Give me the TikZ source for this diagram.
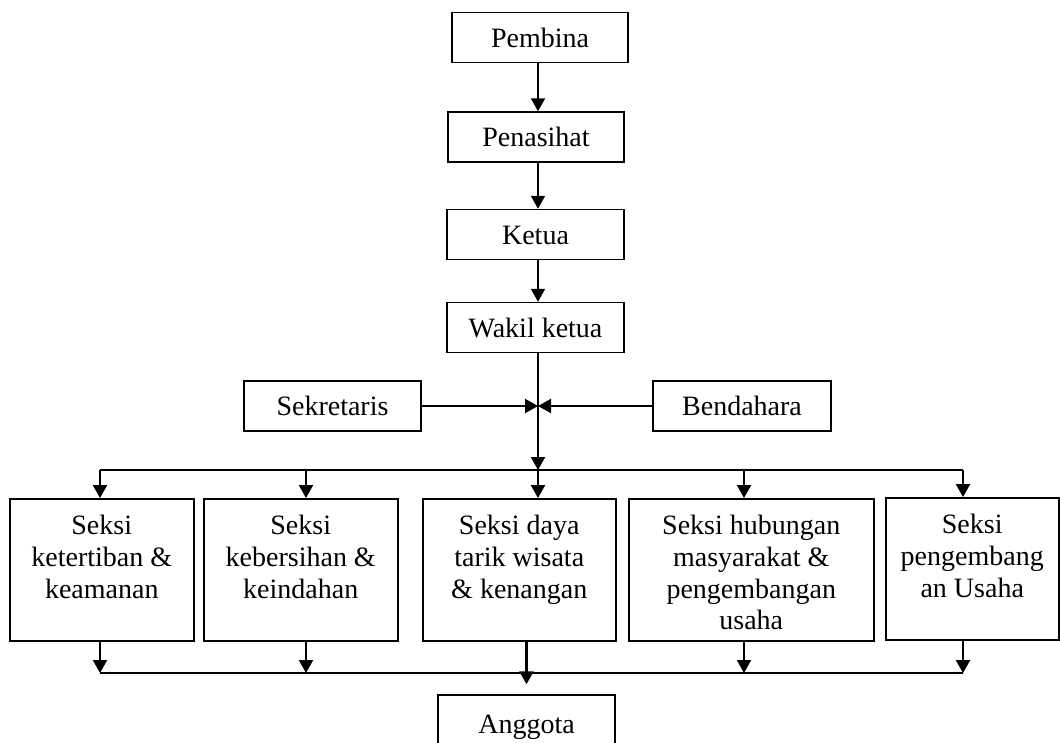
\documentclass[tikz,border=0pt]{standalone}
\usepackage{fontspec}
\setmainfont{Liberation Serif}
\usetikzlibrary{arrows.meta}
\begin{document}
\begin{tikzpicture}[x=1pt,y=-1pt,
  every node/.style={font=\fontsize{28}{31.7}\selectfont},
  box/.style={draw,line width=1.5pt,inner sep=0pt,minimum height=50pt,text height=19pt,text depth=0pt},
  sect/.style={draw,line width=1.5pt,inner sep=0pt,anchor=north west},
  conn/.style={line width=2.2pt},
  arr/.style={line width=2.2pt,-{Triangle[width=14pt,length=13pt]}}]
\useasboundingbox (0,0) rectangle (1060,742);
% top chain
\node[box,minimum width=176pt] (pembina) at (540,37.5) {Pembina};
\node[box,minimum width=176pt] (penasihat) at (536,137) {Penasihat};
\node[box,minimum width=177pt] (ketua) at (535.5,234.5) {Ketua};
\node[box,minimum width=177pt] (wakil) at (535.5,327.5) {Wakil ketua};
\node[box,minimum width=177pt] (sekretaris) at (332.5,406) {Sekretaris};
\node[box,minimum width=178pt] (bendahara) at (742,406) {Bendahara};
% sections
\newcommand{\secttext}[2]{\parbox[t][142pt][t]{#1}{\centering\rule{0pt}{36pt}#2}}
\node[sect] (s1) at (9,498) {\secttext{184pt}{Seksi\\ketertiban \&\\keamanan}};
\node[sect] (s2) at (203,498) {\secttext{194pt}{Seksi\\kebersihan \&\\keindahan}};
\node[sect] (s3) at (422,498) {\secttext{193pt}{Seksi daya\\tarik wisata\\\& kenangan}};
\node[sect] (s4) at (628,498) {\secttext{245pt}{Seksi hubungan\\masyarakat \&\\pengembangan\\usaha}};
\node[sect] (s5) at (885,497) {\secttext{173pt}{Seksi\\pengembang\\an Usaha}};
\node[box,minimum width=177pt,minimum height=58pt] (anggota) at (526.5,724) {Anggota};
% coordinates
\coordinate (cx) at (538,0);
\coordinate (J) at (538,406);
\coordinate (T1) at (100,470);
\coordinate (T2) at (306,470);
\coordinate (T3) at (538,470);
\coordinate (T4) at (744,470);
\coordinate (T5) at (963,470);
\coordinate (L1) at (100,673);
\coordinate (L2) at (306,673);
\coordinate (L4) at (744,673);
\coordinate (L5) at (963,673);
% connectors
\draw[arr] (pembina.south -| cx) -- (penasihat.north -| cx);
\draw[arr] (penasihat.south -| cx) -- (ketua.north -| cx);
\draw[arr] (ketua.south -| cx) -- (wakil.north -| cx);
\draw[conn] (wakil.south -| cx) -- (J);
\draw[arr] (sekretaris.east) -- (J);
\draw[arr] (bendahara.west) -- (J);
\draw[arr] (J) -- (T3);
\draw[conn] (T1) -- (T5);
\draw[arr] (T1) -- (T1 |- s1.north);
\draw[arr] (T2) -- (T2 |- s2.north);
\draw[arr] (T3) -- (T3 |- s3.north);
\draw[arr] (T4) -- (T4 |- s4.north);
\draw[arr] (T5) -- (T5 |- s5.north);
\draw[conn] (L1) -- (L5);
\draw[arr] (s1.south -| L1) -- (L1);
\draw[arr] (s2.south -| L2) -- (L2);
\draw[arr] (s4.south -| L4) -- (L4);
\draw[arr] (s5.south -| L5) -- (L5);
\draw[arr,shorten >=10pt] (s3.south -| anggota.north) -- (anggota.north);
\end{tikzpicture}
\end{document}
